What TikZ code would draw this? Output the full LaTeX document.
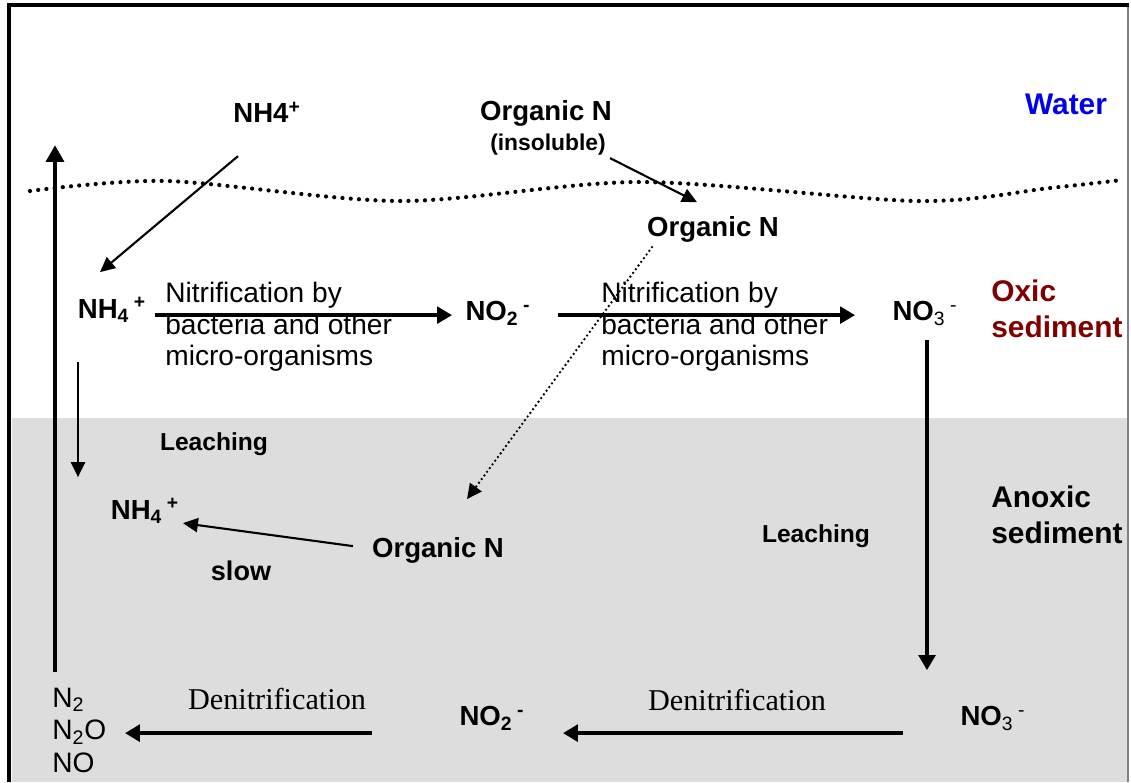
\documentclass[tikz,border=0pt]{standalone}
\usepackage{fontspec}
\setmainfont{Liberation Sans}
\newfontfamily\denitfont{Liberation Serif}
\usepackage{xcolor}
\usepackage{tikz}
\usetikzlibrary{shapes,arrows.meta}
\definecolor{waterblue}{RGB}{0,0,235}
\definecolor{oxicred}{RGB}{128,0,0}
\definecolor{anoxicgray}{RGB}{221,221,221}
\tikzstyle{species} = [font=\bfseries\fontsize{15.7}{18}\selectfont, inner sep=0pt]
\tikzstyle{process} = [font=\fontsize{16}{17.9}\selectfont, align=left, anchor=west, inner sep=0pt]
\tikzstyle{note} = [font=\bfseries\fontsize{14}{16}\selectfont, inner sep=0pt]
\tikzstyle{zone} = [font=\bfseries\fontsize{17}{20.5}\selectfont, align=left, anchor=west, inner sep=0pt]
\tikzstyle{denit} = [font=\denitfont\fontsize{17.2}{20}\selectfont, inner sep=0pt]
\tikzstyle{line} = [draw, -{Triangle[length=8.5pt,width=9.5pt]}, line width=1.9pt]
\tikzstyle{thinline} = [draw, -{Triangle[length=8.5pt,width=8pt]}, line width=1.2pt]

\begin{document}
\begin{tikzpicture}[x=0.02cm, y=-0.02cm, every node/.style={yshift=-1.2pt}]
\useasboundingbox (0,0) rectangle (1131,782);
% sediment layers and frame
\fill [anoxicgray] (12,418) rectangle (1127,782);
\draw [gray, line width=0.6pt] (1128,5) -- (1128,782);
\draw [line width=2.2pt] (9,782) -- (9,5) -- (1129,5);
\draw [line width=2.4pt, line cap=round, dash pattern=on 0pt off 4.7pt]
  plot [smooth] coordinates {(30,191) (167,181) (400,201) (640,182) (917,201) (1050,188) (1122,180)};

\node [species] (nh4top) at (267,110) {NH4\textsuperscript{+}};
\node [species] (orgtop) at (546,111) {Organic N};
\node [note, font=\bfseries\fontsize{13}{15}\selectfont] (insol) at (548,142) {(insoluble)};
\node [species] (orgmid) at (713,227) {Organic N};
\node [zone, text=waterblue, anchor=center] (water) at (1066,102) {Water};

\node [species] (nh4mid) at (112,308) {NH\textsubscript{4}\,\textsuperscript{+}};
\node [species] (no2mid) at (498,311) {NO\textsubscript{2}\,\textsuperscript{-}};
\node [species] (no3mid) at (925,311) {NO\textsubscript{\mdseries 3}\,\textsuperscript{\mdseries -}};
\node [process] (nitri1) at (165,325) {Nitrification by\\bacteria and other\\micro-organisms};
\node [process] (nitri2) at (601,325) {Nitrification by\\bacteria and other\\micro-organisms};
\node [zone, text=oxicred] (oxic) at (991,307) {Oxic\\sediment};

\node [note] (leach1) at (214,442) {Leaching};
\node [species] (nh4low) at (145,509) {NH\textsubscript{4}\,\textsuperscript{+}};
\node [species] (orglow) at (438,548) {Organic N};
\node [note, font=\bfseries\fontsize{15.4}{17}\selectfont] (slow) at (241,569) {slow};
\node [note] (leach2) at (816,534) {Leaching};
\node [zone] (anoxic) at (991,513) {Anoxic\\sediment};

\node [process, font=\fontsize{16}{18.5}\selectfont] (n2) at (52,728) {N\textsubscript{2}\\N\textsubscript{2}O\\NO};
\node [species] (no2low) at (492,716) {NO\textsubscript{2}\,\textsuperscript{-}};
\node [species] (no3low) at (993,716) {NO\textsubscript{\mdseries 3}\,\textsuperscript{\mdseries -}};
\node [denit] (denit1) at (277,697) {Denitrification};
\node [denit] (denit2) at (737,698) {Denitrification};

\coordinate (surface) at (55,143);

\path [line, line width=2.3pt, -{Triangle[length=9.5pt,width=10pt]}] ([shift={(3,-58)}]n2.west) -- (surface);
\path [thinline] ([shift={(-29,44)}]nh4top.center) -- ([shift={(-12,-38)}]nh4mid.center);
\path [thinline] ([shift={(62,14)}]insol.center) -- ([shift={(-16,-27)}]orgmid.center);
\path [draw, -{Triangle[length=8.5pt,width=8pt]}, line width=1.5pt, line cap=round, dash pattern=on 0pt off 2.6pt] ([shift={(-61,18)}]orgmid.center) -- ([shift={(29,-51)}]orglow.center);
\path [line] ([shift={(43,5)}]nh4mid.center) -- ([shift={(-46,2)}]no2mid.center);
\path [line] ([shift={(60,2)}]no2mid.center) -- ([shift={(-70,2)}]no3mid.center);
\path [thinline] ([shift={(-34,52)}]nh4mid.center) -- ([shift={(-67,-34)}]nh4low.center);
\path [thinline] ([shift={(-85,-4)}]orglow.center) -- ([shift={(38,12)}]nh4low.center);
\path [line] ([shift={(2,27)}]no3mid.center) -- ([shift={(-66,-48)}]no3low.center);
\path [line, line width=2.3pt] ([shift={(-90,15)}]no3low.center) -- ([shift={(71,15)}]no2low.center);
\path [line, line width=2.3pt] ([shift={(-120,15)}]no2low.center) -- ([shift={(73,3)}]n2.west);
\end{tikzpicture}
\end{document}
